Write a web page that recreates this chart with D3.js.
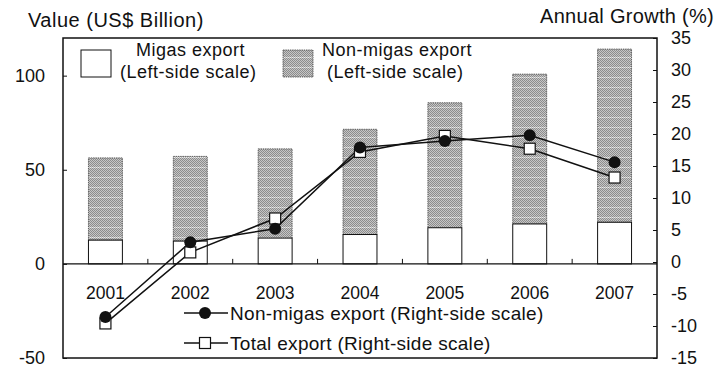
<!DOCTYPE html>
<html>
<head>
<meta charset="utf-8">
<script src="https://cdn.jsdelivr.net/npm/d3@7"></script>
<style>
  body { margin: 0; background: #fff; }
  svg text { font-family: "Liberation Sans", Arial, sans-serif; fill: #111; }
</style>
</head>
<body>
<svg id="chart" width="723" height="372"></svg>
<script>
// Export values (US$ billion) and annual growth (%)
const years = ["2001", "2002", "2003", "2004", "2005", "2006", "2007"];
const migasExport = [12.6, 12.1, 13.7, 15.6, 19.2, 21.2, 22.1];
const nonMigasExport = [43.7, 45.0, 47.4, 55.9, 66.4, 79.6, 92.0];
const nonMigasGrowth = [-8.6, 3.1, 5.2, 17.9, 18.9, 19.8, 15.6];
const totalGrowth = [-9.6, 1.5, 6.8, 17.2, 19.7, 17.7, 13.2];
const leftTicks = [-50, 0, 50, 100];
const rightTicks = [-15, -10, -5, 0, 5, 10, 15, 20, 25, 30, 35];

const plot = { left: 63, right: 657, top: 38, bottom: 358 };

const svg = d3.select("#chart");

// fine grey dither for the non-migas bars
const defs = svg.append("defs");
const pat = defs.append("pattern")
  .attr("id", "stipple").attr("patternUnits", "userSpaceOnUse")
  .attr("width", 4).attr("height", 10);
pat.append("rect").attr("width", 4).attr("height", 10).attr("fill", "#c6c6c6");
for (let py = 0; py < 10; py++) {
  for (let px = 0; px < 4; px++) {
    if ((px + py) % 2 === 0) {
      const light = py === 7;
      pat.append("rect").attr("x", px).attr("y", py).attr("width", 1).attr("height", 1)
        .attr("fill", light ? "#b4b4b4" : "#8c8c8c");
    } else if (py === 7) {
      pat.append("rect").attr("x", px).attr("y", py).attr("width", 1).attr("height", 1)
        .attr("fill", "#ececec");
    }
  }
}

const x = d3.scaleBand().domain(years)
  .range([plot.left, plot.right]).paddingInner(0.6).paddingOuter(0.3);
const yL = d3.scaleLinear().domain([-50, 120]).range([plot.bottom, plot.top]);
const yR = d3.scaleLinear().domain([-15, 35]).range([plot.bottom, plot.top]);
const cx = d => x(d) + x.bandwidth() / 2;

// stacked bars: migas at the bottom, non-migas on top
const bars = svg.append("g");
years.forEach((yr, i) => {
  const m = migasExport[i], n = nonMigasExport[i];
  bars.append("rect")
    .attr("x", x(yr)).attr("width", x.bandwidth())
    .attr("y", yL(m + n)).attr("height", yL(m) - yL(m + n))
    .attr("fill", "url(#stipple)").attr("stroke", "#444").attr("stroke-width", 0.8)
    .attr("stroke-dasharray", "1.5,0.8");
  bars.append("rect")
    .attr("x", x(yr)).attr("width", x.bandwidth())
    .attr("y", yL(m)).attr("height", yL(0) - yL(m))
    .attr("fill", "#fff").attr("stroke", "#111").attr("stroke-width", 1);
});

// zero line with small category separators
const zeroY = yL(0);
svg.append("line")
  .attr("x1", plot.left).attr("x2", plot.right)
  .attr("y1", zeroY).attr("y2", zeroY)
  .attr("stroke", "#111").attr("stroke-width", 1.2);
const gap = (x.step() - x.bandwidth()) / 2;
years.slice(1).forEach(yr => {
  const sx = x(yr) - gap;
  svg.append("line").attr("x1", sx).attr("x2", sx)
    .attr("y1", zeroY).attr("y2", zeroY - 5)
    .attr("stroke", "#111").attr("stroke-width", 1);
});

// category labels
svg.append("g").selectAll("text").data(years).join("text")
  .attr("x", d => cx(d)).attr("y", 299)
  .attr("text-anchor", "middle").attr("font-size", 17.5)
  .text(d => d);

// growth lines
const line = d3.line().x((d, i) => cx(years[i])).y(d => yR(d));
svg.append("path").datum(totalGrowth).attr("d", line)
  .attr("fill", "none").attr("stroke", "#111").attr("stroke-width", 1.5);
svg.append("path").datum(nonMigasGrowth).attr("d", line)
  .attr("fill", "none").attr("stroke", "#111").attr("stroke-width", 1.5);

svg.append("g").selectAll("rect").data(totalGrowth).join("rect")
  .attr("x", (d, i) => cx(years[i]) - 5.5).attr("y", d => yR(d) - 5.5)
  .attr("width", 11).attr("height", 11)
  .attr("fill", "#fff").attr("stroke", "#111").attr("stroke-width", 1.2);
svg.append("g").selectAll("circle").data(nonMigasGrowth).join("circle")
  .attr("cx", (d, i) => cx(years[i])).attr("cy", d => yR(d))
  .attr("r", 6).attr("fill", "#111");

// frame
svg.append("rect")
  .attr("x", plot.left).attr("y", plot.top)
  .attr("width", plot.right - plot.left).attr("height", plot.bottom - plot.top)
  .attr("fill", "none").attr("stroke", "#111").attr("stroke-width", 1.5);

// axes (inward ticks)
const axL = svg.append("g").attr("transform", `translate(${plot.left},0)`)
  .call(d3.axisLeft(yL).tickValues(leftTicks).tickSize(-4).tickPadding(18));
const axR = svg.append("g").attr("transform", `translate(${plot.right},0)`)
  .call(d3.axisRight(yR).tickValues(rightTicks).tickSize(-4).tickPadding(14));
[axL, axR].forEach(ax => {
  ax.select(".domain").remove();
  ax.selectAll("line").attr("stroke", "#111");
  ax.selectAll("text")
    .attr("font-size", 18)
    .attr("font-family", "\"Liberation Sans\", Arial, sans-serif")
    .attr("fill", d => d < 0 ? "#777" : "#111")
    .text(d => d < 0 ? "-" + Math.abs(d) : d);
});

// axis titles
svg.append("text").attr("x", 28).attr("y", 27).attr("font-size", 20)
  .attr("letter-spacing", 0.5).text("Value (US$ Billion)");
svg.append("text").attr("x", 540).attr("y", 23).attr("font-size", 20)
  .attr("letter-spacing", 0.3).text("Annual Growth (%)");

// bar legend
const legTop = svg.append("g").attr("letter-spacing", 0.5);
legTop.append("rect").attr("x", 81).attr("y", 50).attr("width", 30).attr("height", 27)
  .attr("fill", "#fff").attr("stroke", "#111").attr("stroke-width", 1);
legTop.append("text").attr("x", 136).attr("y", 56).attr("font-size", 18).text("Migas export");
legTop.append("text").attr("x", 120).attr("y", 78).attr("font-size", 18).text("(Left-side scale)");
legTop.append("rect").attr("x", 283).attr("y", 50).attr("width", 30).attr("height", 27)
  .attr("fill", "url(#stipple)").attr("stroke", "#444").attr("stroke-width", 0.8)
  .attr("stroke-dasharray", "1.5,0.8");
legTop.append("text").attr("x", 322).attr("y", 56).attr("font-size", 18).text("Non-migas export");
legTop.append("text").attr("x", 327).attr("y", 78).attr("font-size", 18).text("(Left-side scale)");

// line legend
const legBot = svg.append("g").attr("letter-spacing", 0.3);
legBot.append("line").attr("x1", 184).attr("x2", 228).attr("y1", 313).attr("y2", 313)
  .attr("stroke", "#111").attr("stroke-width", 1.5);
legBot.append("circle").attr("cx", 205).attr("cy", 313).attr("r", 6).attr("fill", "#111");
legBot.append("text").attr("x", 230).attr("y", 320).attr("font-size", 19)
  .text("Non-migas export (Right-side scale)");
legBot.append("line").attr("x1", 184).attr("x2", 228).attr("y1", 343).attr("y2", 343)
  .attr("stroke", "#111").attr("stroke-width", 1.5);
legBot.append("rect").attr("x", 199.5).attr("y", 337.5).attr("width", 11).attr("height", 11)
  .attr("fill", "#fff").attr("stroke", "#111").attr("stroke-width", 1.2);
legBot.append("text").attr("x", 230).attr("y", 350).attr("font-size", 19)
  .text("Total export (Right-side scale)");
</script>
</body>
</html>
